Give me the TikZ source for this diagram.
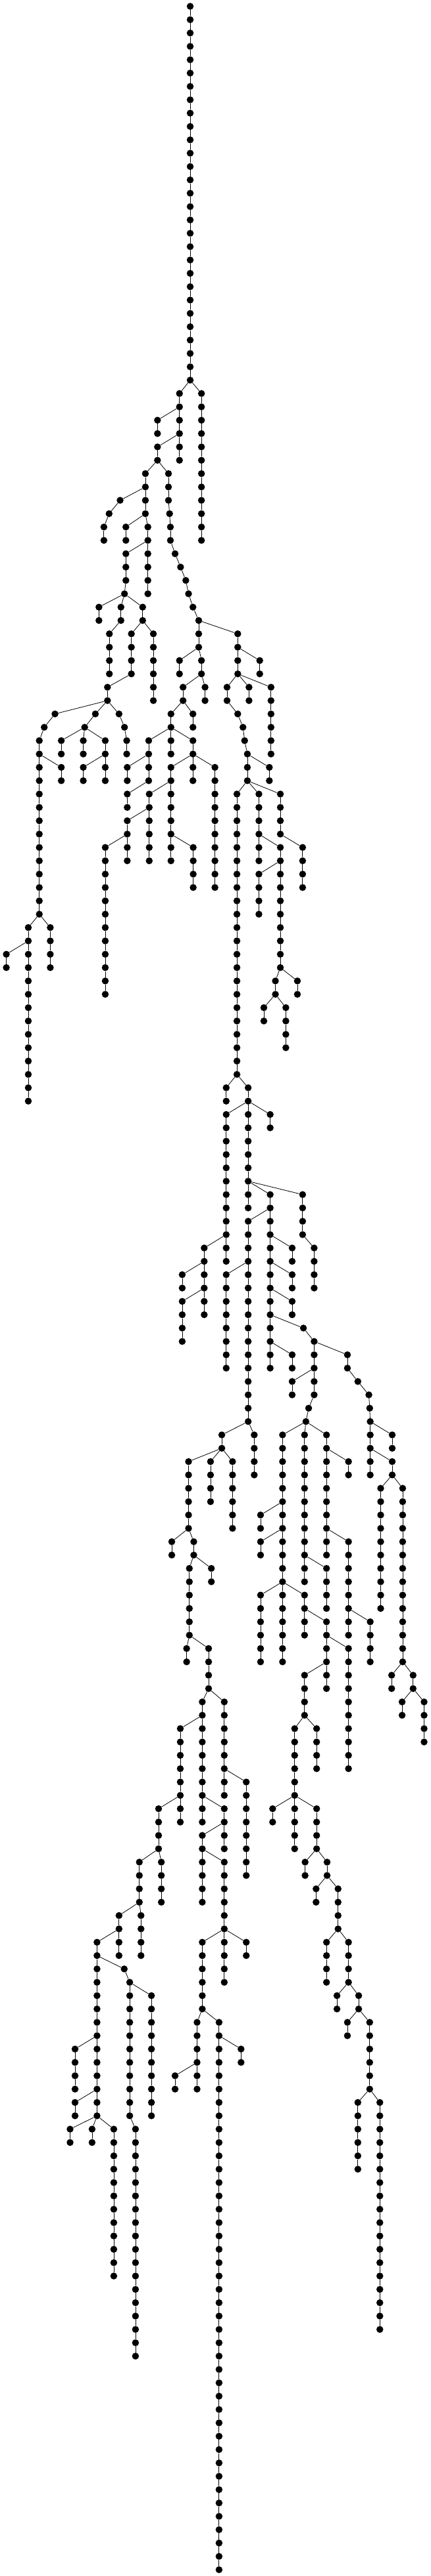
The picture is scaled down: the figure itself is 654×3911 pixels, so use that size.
\documentclass[tikz,border=0pt]{standalone}
\begin{document}
\begin{tikzpicture}[
  dot/.style={circle,fill=black,draw=none,inner sep=0pt,minimum size=10.5pt},
  edge/.style={line width=0.8pt,black}]
\fill[white] (0pt,0pt) rectangle (654pt,-3911pt);
\useasboundingbox (0pt,0pt) rectangle (654pt,-3911pt);
\newcommand\segroot[3]{%
  \pgfmathsetmacro\xx{9.6+(#1-23)*0.4177}%
  \foreach \l in {#2,...,#3}{%
    \pgfmathtruncatemacro\pl{\l-1}%
    \pgfmathsetmacro\yy{-(9.6+\l*20.27)}%
    \node[dot] (n#1-\l) at (\xx pt,\yy pt) {};
    \ifnum\l=#2\relax\else\draw[edge] (n#1-\pl) -- (n#1-\l);\fi
  }}
\newcommand\seg[4]{%
  \pgfmathsetmacro\xx{9.6+(#1-23)*0.4177}%
  \foreach \l in {#2,...,#3}{%
    \pgfmathtruncatemacro\pl{\l-1}%
    \pgfmathsetmacro\yy{-(9.6+\l*20.27)}%
    \node[dot] (n#1-\l) at (\xx pt,\yy pt) {};
    \ifnum\l=#2\relax\draw[edge] (n#4-\pl) -- (n#1-\l);\else\draw[edge] (n#1-\pl) -- (n#1-\l);\fi
  }}
\segroot{692}{0}{28}
\seg{653}{29}{34}{692}
\seg{733}{29}{40}{692}
\seg{573}{31}{32}{653}
\seg{573}{33}{34}{653}
\seg{529}{35}{38}{573}
\seg{613}{35}{37}{573}
\seg{617}{38}{38}{613}
\seg{620}{39}{40}{617}
\seg{637}{41}{41}{620}
\seg{657}{42}{42}{637}
\seg{676}{43}{43}{657}
\seg{686}{44}{44}{676}
\seg{702}{45}{45}{686}
\seg{723}{46}{48}{702}
\seg{437}{37}{37}{529}
\seg{397}{38}{38}{437}
\seg{378}{39}{40}{397}
\seg{458}{39}{40}{529}
\seg{538}{39}{44}{529}
\seg{458}{41}{43}{538}
\seg{453}{44}{44}{458}
\seg{360}{45}{46}{453}
\seg{440}{45}{46}{453}
\seg{398}{47}{50}{440}
\seg{519}{45}{46}{453}
\seg{558}{47}{52}{519}
\seg{478}{47}{50}{519}
\seg{391}{51}{52}{478}
\seg{200}{53}{53}{391}
\seg{161}{54}{54}{200}
\seg{143}{55}{68}{161}
\seg{223}{57}{58}{143}
\seg{347}{53}{53}{391}
\seg{308}{54}{54}{347}
\seg{223}{55}{56}{308}
\seg{303}{55}{56}{308}
\seg{383}{55}{58}{308}
\seg{303}{57}{58}{383}
\seg{433}{53}{53}{391}
\seg{453}{54}{54}{433}
\seg{461}{55}{56}{453}
\seg{865}{47}{50}{723}
\seg{945}{49}{50}{865}
\seg{826}{51}{52}{865}
\seg{865}{53}{53}{826}
\seg{884}{54}{54}{865}
\seg{890}{55}{55}{884}
\seg{900}{56}{58}{890}
\seg{980}{57}{58}{900}
\seg{906}{51}{52}{865}
\seg{986}{51}{56}{865}
\seg{653}{49}{50}{723}
\seg{733}{49}{50}{723}
\seg{666}{51}{52}{733}
\seg{746}{51}{52}{733}
\seg{702}{53}{54}{666}
\seg{622}{53}{56}{666}
\seg{541}{55}{58}{622}
\seg{702}{55}{58}{622}
\seg{463}{57}{58}{541}
\seg{622}{57}{64}{702}
\seg{782}{57}{66}{702}
\seg{463}{59}{60}{541}
\seg{543}{59}{64}{622}
\seg{463}{61}{64}{543}
\seg{383}{63}{74}{463}
\seg{703}{63}{66}{622}
\seg{103}{69}{82}{143}
\seg{183}{69}{72}{143}
\seg{23}{71}{72}{103}
\seg{862}{59}{80}{900}
\seg{942}{59}{64}{900}
\seg{1020}{59}{62}{900}
\seg{1101}{63}{66}{1020}
\seg{1020}{63}{72}{942}
\seg{942}{65}{68}{1020}
\seg{1002}{73}{74}{1020}
\seg{1082}{73}{74}{1020}
\seg{960}{75}{76}{1002}
\seg{1040}{75}{78}{1002}
\seg{823}{81}{82}{862}
\seg{903}{81}{90}{862}
\seg{983}{83}{84}{903}
\seg{823}{83}{94}{903}
\seg{983}{89}{102}{903}
\seg{1101}{89}{92}{903}
\seg{1143}{93}{96}{1101}
\seg{903}{91}{106}{983}
\seg{823}{95}{102}{903}
\seg{1063}{93}{94}{983}
\seg{1063}{95}{96}{983}
\seg{1063}{97}{98}{983}
\seg{1063}{101}{102}{983}
\seg{1104}{99}{99}{983}
\seg{1143}{100}{104}{1104}
\seg{1063}{103}{104}{1143}
\seg{1123}{105}{105}{1143}
\seg{1113}{106}{106}{1123}
\seg{1264}{101}{102}{1143}
\seg{1302}{103}{103}{1264}
\seg{1342}{104}{104}{1302}
\seg{1345}{105}{105}{1342}
\seg{1347}{106}{110}{1345}
\seg{743}{93}{98}{823}
\seg{663}{95}{96}{743}
\seg{663}{97}{100}{743}
\seg{925}{107}{110}{903}
\seg{807}{107}{108}{903}
\seg{686}{109}{114}{807}
\seg{766}{109}{112}{807}
\seg{846}{109}{114}{807}
\seg{625}{115}{116}{686}
\seg{705}{115}{116}{686}
\seg{689}{117}{122}{705}
\seg{769}{117}{118}{705}
\seg{1028}{107}{124}{1113}
\seg{948}{113}{114}{1028}
\seg{948}{115}{116}{1028}
\seg{948}{119}{124}{1028}
\seg{1108}{107}{118}{1113}
\seg{1188}{117}{120}{1108}
\seg{1188}{107}{116}{1113}
\seg{1268}{109}{110}{1188}
\seg{1268}{115}{122}{1188}
\seg{1347}{121}{124}{1268}
\seg{1108}{119}{122}{1028}
\seg{1188}{121}{126}{1108}
\seg{1268}{123}{132}{1188}
\seg{1108}{125}{128}{1188}
\seg{1072}{129}{138}{1108}
\seg{1152}{129}{132}{1108}
\seg{1427}{107}{108}{1347}
\seg{1427}{109}{110}{1347}
\seg{1385}{111}{120}{1427}
\seg{1465}{111}{124}{1427}
\seg{1425}{125}{126}{1465}
\seg{1503}{125}{126}{1465}
\seg{1463}{127}{128}{1503}
\seg{1543}{127}{130}{1503}
\seg{679}{123}{124}{689}
\seg{759}{123}{126}{689}
\seg{736}{127}{136}{759}
\seg{656}{129}{136}{736}
\seg{816}{127}{134}{759}
\seg{896}{133}{140}{816}
\seg{992}{135}{136}{1072}
\seg{1152}{135}{138}{1072}
\seg{1110}{139}{140}{1152}
\seg{1190}{139}{140}{1152}
\seg{1150}{141}{142}{1190}
\seg{1230}{141}{144}{1190}
\seg{1188}{145}{148}{1230}
\seg{1268}{145}{148}{1230}
\seg{1226}{149}{150}{1268}
\seg{1305}{149}{150}{1268}
\seg{1264}{151}{152}{1305}
\seg{1345}{151}{156}{1305}
\seg{1302}{157}{162}{1345}
\seg{1382}{157}{174}{1345}
\seg{577}{135}{138}{656}
\seg{587}{139}{142}{577}
\seg{507}{139}{142}{577}
\seg{513}{143}{146}{507}
\seg{433}{143}{146}{507}
\seg{353}{145}{158}{433}
\seg{452}{147}{147}{353}
\seg{472}{148}{158}{452}
\seg{551}{149}{158}{472}
\seg{493}{159}{176}{472}
\seg{273}{153}{156}{353}
\seg{273}{157}{158}{353}
\seg{255}{159}{160}{353}
\seg{335}{159}{160}{353}
\seg{414}{159}{170}{353}
\seg{816}{135}{138}{736}
\seg{736}{137}{142}{816}
\seg{816}{139}{148}{736}
\seg{896}{145}{146}{816}
\seg{736}{145}{150}{816}
\seg{717}{151}{156}{736}
\seg{637}{155}{156}{717}
\seg{797}{151}{192}{736}
\seg{877}{153}{154}{797}
\end{tikzpicture}
\end{document}
